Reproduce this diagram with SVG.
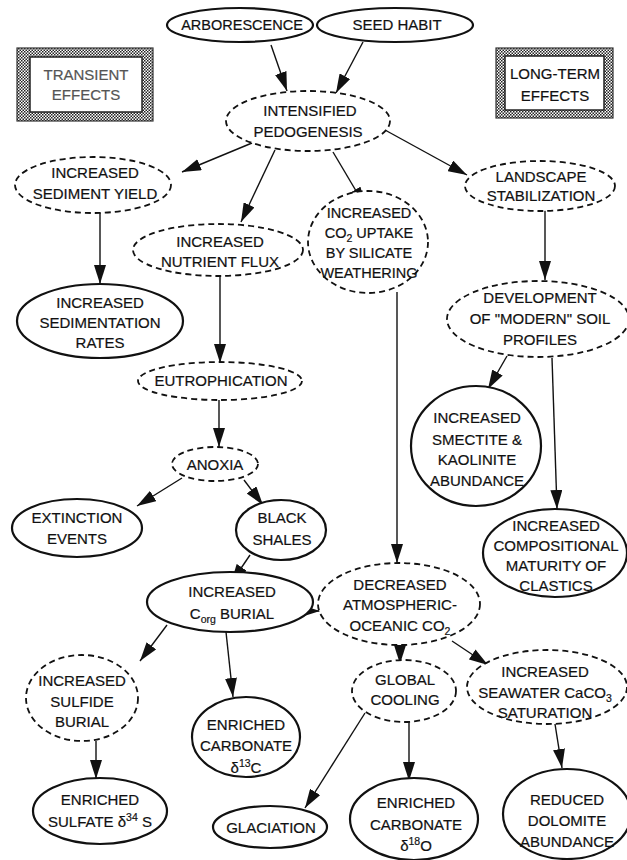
<svg xmlns="http://www.w3.org/2000/svg" width="627" height="860" viewBox="0 0 627 860">
<defs>
<pattern id="chk" width="3" height="3" patternUnits="userSpaceOnUse">
<rect width="3" height="3" fill="#fff"/>
<rect width="1.5" height="1.5" fill="#222"/>
<rect x="1.5" y="1.5" width="1.5" height="1.5" fill="#222"/>
</pattern>
<marker id="ah" markerUnits="userSpaceOnUse" markerWidth="19" markerHeight="12" refX="19" refY="6" orient="auto">
<path d="M0,0 L19,6 L0,12 z" fill="#111"/>
</marker>
</defs>
<style>
text{font-family:"Liberation Sans",Arial,sans-serif;font-size:15px;fill:#111;stroke:#111;stroke-width:0.2;text-anchor:middle}
.s{fill:#fff;stroke:#111;stroke-width:2.2}
.d{fill:#fff;stroke:#111;stroke-width:1.8;stroke-dasharray:6,4}
.c line{stroke:#111;stroke-width:1.4;marker-end:url(#ah)}
.sub{font-size:10.5px}
.bo{fill:url(#chk);stroke:#333;stroke-width:1.2}
.bi{fill:#fff;stroke:#222;stroke-width:1.5}
</style>
<rect width="627" height="860" fill="#fff"/>

<g id="transient">
<rect class="bo" x="17" y="48" width="136" height="73"/>
<rect class="bi" x="30" y="57" width="112" height="55"/>
<text x="86" y="80" style="fill:#555;stroke:#555">TRANSIENT</text>
<text x="86" y="100" style="fill:#555;stroke:#555">EFFECTS</text>
</g>
<g id="longterm">
<rect class="bo" x="496" y="48" width="117" height="70"/>
<rect class="bi" x="505" y="56" width="99" height="54"/>
<text x="555" y="79">LONG-TERM</text>
<text x="555" y="101">EFFECTS</text>
</g>

<g class="c" id="connectors">
<line x1="271" y1="45" x2="287" y2="91"/>
<line x1="363" y1="42" x2="336" y2="93"/>
<line x1="252" y1="143" x2="182" y2="172"/>
<line x1="275" y1="150" x2="241" y2="222"/>
<line x1="333" y1="152" x2="365" y2="206"/>
<line x1="385" y1="130" x2="467" y2="175"/>
<line x1="100" y1="213" x2="100" y2="284"/>
<line x1="220" y1="276" x2="220" y2="363"/>
<line x1="545" y1="210" x2="545" y2="280"/>
<line x1="219" y1="400" x2="219" y2="447"/>
<line x1="507" y1="356" x2="488" y2="389"/>
<line x1="552" y1="358" x2="557" y2="509"/>
<line x1="397" y1="292" x2="397" y2="563"/>
<line x1="182" y1="478" x2="137" y2="506"/>
<line x1="244" y1="480" x2="263" y2="505"/>
<line x1="250" y1="555" x2="231" y2="583"/>
<line x1="288" y1="611" x2="320" y2="611"/>
<line x1="167" y1="625" x2="140" y2="661"/>
<line x1="226" y1="632" x2="233" y2="697"/>
<line x1="400" y1="646" x2="400" y2="664"/>
<line x1="452" y1="641" x2="488" y2="665"/>
<line x1="96" y1="741" x2="96" y2="779"/>
<line x1="365" y1="713" x2="305" y2="808"/>
<line x1="409" y1="722" x2="409" y2="781"/>
<line x1="555" y1="724" x2="562" y2="768"/>
</g>

<g id="arborescence"><ellipse class="s" cx="240" cy="25" rx="73" ry="17"/><text x="242" y="30" style="font-size:14.5px">ARBORESCENCE</text></g>
<g id="seedhabit"><ellipse class="s" cx="395" cy="25" rx="78" ry="17"/><text x="397" y="30">SEED HABIT</text></g>

<g id="pedogenesis"><ellipse class="d" cx="308" cy="121" rx="82" ry="30"/><text x="310" y="116">INTENSIFIED</text><text x="308" y="137">PEDOGENESIS</text></g>
<g id="sedyield"><ellipse class="d" cx="93" cy="185" rx="78" ry="28"/><text x="95" y="178">INCREASED</text><text x="95" y="199">SEDIMENT YIELD</text></g>
<g id="nutrient"><ellipse class="d" cx="218" cy="250" rx="85" ry="26"/><text x="220" y="247">INCREASED</text><text x="220" y="267">NUTRIENT FLUX</text></g>
<g id="co2uptake"><ellipse class="d" cx="368" cy="242" rx="60" ry="51"/><text x="369" y="218" style="font-size:14.5px">INCREASED</text><text x="369" y="238" style="font-size:14.5px">CO<tspan class="sub" dy="4">2</tspan><tspan dy="-4"> UPTAKE</tspan></text><text x="369" y="258" style="font-size:14.5px">BY SILICATE</text><text x="369" y="278" style="font-size:14.5px">WEATHERING</text></g>
<g id="landscape"><ellipse class="d" cx="540" cy="186" rx="75" ry="25"/><text x="541" y="182">LANDSCAPE</text><text x="541" y="201">STABILIZATION</text></g>
<g id="sedrates"><ellipse class="s" cx="100" cy="321" rx="83" ry="37"/><text x="100" y="308">INCREASED</text><text x="100" y="328">SEDIMENTATION</text><text x="100" y="348">RATES</text></g>
<g id="eutroph"><ellipse class="d" cx="220" cy="381" rx="82" ry="19"/><text x="221" y="386">EUTROPHICATION</text></g>
<g id="development"><ellipse class="d" cx="538" cy="319" rx="91" ry="38"/><text x="540" y="303">DEVELOPMENT</text><text x="540" y="324">OF "MODERN" SOIL</text><text x="540" y="345">PROFILES</text></g>
<g id="smectite"><ellipse class="s" cx="476" cy="446" rx="65" ry="60"/><text x="477" y="423">INCREASED</text><text x="477" y="445">SMECTITE &amp;</text><text x="477" y="465">KAOLINITE</text><text x="477" y="486">ABUNDANCE</text></g>
<g id="compositional"><ellipse class="s" cx="555" cy="553" rx="72" ry="44"/><text x="556" y="531">INCREASED</text><text x="556" y="551">COMPOSITIONAL</text><text x="556" y="571">MATURITY OF</text><text x="556" y="591">CLASTICS</text></g>
<g id="anoxia"><ellipse class="d" cx="215" cy="464" rx="43" ry="17"/><text x="215" y="470">ANOXIA</text></g>
<g id="extinction"><ellipse class="s" cx="77" cy="528" rx="65" ry="29"/><text x="77" y="523">EXTINCTION</text><text x="77" y="544">EVENTS</text></g>
<g id="blackshales"><ellipse class="s" cx="281" cy="530" rx="45" ry="30"/><text x="282" y="523">BLACK</text><text x="282" y="545">SHALES</text></g>
<g id="corgburial"><ellipse class="s" cx="230" cy="602" rx="83" ry="30"/><text x="232" y="597">INCREASED</text><text x="232" y="619">C<tspan class="sub" dy="4">org</tspan><tspan dy="-4"> BURIAL</tspan></text></g>
<g id="decreased"><ellipse class="d" cx="399" cy="604" rx="81" ry="41"/><text x="400" y="590">DECREASED</text><text x="400" y="610">ATMOSPHERIC-</text><text x="400" y="631">OCEANIC CO<tspan class="sub" dy="4">2</tspan></text></g>
<g id="sulfide"><ellipse class="d" cx="82" cy="698" rx="56" ry="43"/><text x="82" y="686">INCREASED</text><text x="82" y="707">SULFIDE</text><text x="82" y="727">BURIAL</text></g>
<g id="c13"><ellipse class="s" cx="246" cy="737" rx="54" ry="40"/><text x="246" y="730">ENRICHED</text><text x="246" y="751">CARBONATE</text><text x="246" y="773">δ<tspan class="sub" dy="-6">13</tspan><tspan dy="6">C</tspan></text></g>
<g id="cooling"><ellipse class="d" cx="404" cy="691" rx="52" ry="31"/><text x="405" y="685">GLOBAL</text><text x="405" y="705">COOLING</text></g>
<g id="seawater"><ellipse class="d" cx="547" cy="687" rx="80" ry="37"/><text x="545" y="677">INCREASED</text><text x="545" y="698">SEAWATER CaCO<tspan class="sub" dy="4">3</tspan></text><text x="545" y="718">SATURATION</text></g>
<g id="sulfate"><ellipse class="s" cx="100" cy="811" rx="67" ry="33"/><text x="100" y="805">ENRICHED</text><text x="100" y="827">SULFATE δ<tspan class="sub" dy="-6">34</tspan><tspan dy="6"> S</tspan></text></g>
<g id="glaciation"><ellipse class="s" cx="270" cy="827" rx="57" ry="21"/><text x="271" y="833">GLACIATION</text></g>
<g id="c18"><ellipse class="s" cx="414" cy="819" rx="64" ry="41"/><text x="416" y="808">ENRICHED</text><text x="416" y="830">CARBONATE</text><text x="416" y="851">δ<tspan class="sub" dy="-6">18</tspan><tspan dy="6">O</tspan></text></g>
<g id="dolomite"><ellipse class="s" cx="567" cy="814" rx="64" ry="45"/><text x="567" y="805">REDUCED</text><text x="567" y="826">DOLOMITE</text><text x="567" y="847">ABUNDANCE</text></g>
</svg>
